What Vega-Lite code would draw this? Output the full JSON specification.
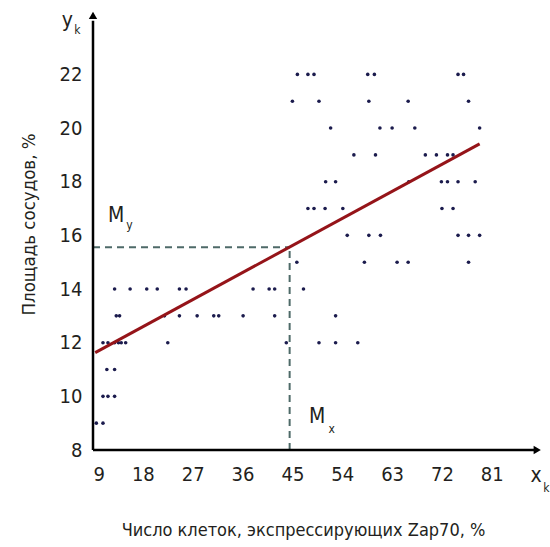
{
  "$schema": "https://vega.github.io/schema/vega-lite/v6.json",
  "width": 447,
  "height": 440,
  "autosize": {"type": "none"},
  "padding": {"left": 93, "top": 10, "right": 10, "bottom": 97},
  "background": "white",
  "config": {"view": {"stroke": null}, "font": "Liberation Sans Narrow, DejaVu Sans Condensed, Liberation Sans, sans-serif"},
  "datasets": {
    "pts": [
      {"x": 9.6, "y": 9}, {"x": 10.8, "y": 9},
      {"x": 10.8, "y": 10}, {"x": 11.7, "y": 10}, {"x": 12.9, "y": 10},
      {"x": 11.5, "y": 11}, {"x": 12.9, "y": 11},
      {"x": 10.8, "y": 12}, {"x": 11.7, "y": 12}, {"x": 12.9, "y": 12}, {"x": 13.6, "y": 12}, {"x": 14.1, "y": 12}, {"x": 14.9, "y": 12}, {"x": 22.5, "y": 12}, {"x": 43.9, "y": 12}, {"x": 49.8, "y": 12}, {"x": 52.8, "y": 12}, {"x": 56.8, "y": 12},
      {"x": 13.2, "y": 13}, {"x": 13.8, "y": 13}, {"x": 21.9, "y": 13}, {"x": 24.6, "y": 13}, {"x": 27.8, "y": 13}, {"x": 30.8, "y": 13}, {"x": 31.7, "y": 13}, {"x": 36.1, "y": 13}, {"x": 41.8, "y": 13}, {"x": 52.8, "y": 13},
      {"x": 12.9, "y": 14}, {"x": 15.7, "y": 14}, {"x": 18.7, "y": 14}, {"x": 20.6, "y": 14}, {"x": 24.6, "y": 14}, {"x": 25.8, "y": 14}, {"x": 37.9, "y": 14}, {"x": 40.8, "y": 14}, {"x": 41.8, "y": 14}, {"x": 47.0, "y": 14},
      {"x": 45.8, "y": 15}, {"x": 58.0, "y": 15}, {"x": 63.9, "y": 15}, {"x": 65.9, "y": 15}, {"x": 76.8, "y": 15},
      {"x": 54.9, "y": 16}, {"x": 58.8, "y": 16}, {"x": 60.9, "y": 16}, {"x": 74.9, "y": 16}, {"x": 76.8, "y": 16}, {"x": 78.8, "y": 16},
      {"x": 47.8, "y": 17}, {"x": 48.9, "y": 17}, {"x": 50.9, "y": 17}, {"x": 54.1, "y": 17}, {"x": 72.0, "y": 17}, {"x": 74.0, "y": 17},
      {"x": 51.0, "y": 18}, {"x": 52.8, "y": 18}, {"x": 66.0, "y": 18}, {"x": 71.9, "y": 18}, {"x": 73.0, "y": 18}, {"x": 74.9, "y": 18}, {"x": 78.0, "y": 18},
      {"x": 56.1, "y": 19}, {"x": 60.0, "y": 19}, {"x": 69.0, "y": 19}, {"x": 71.0, "y": 19}, {"x": 73.0, "y": 19}, {"x": 74.0, "y": 19},
      {"x": 51.9, "y": 20}, {"x": 60.8, "y": 20}, {"x": 63.0, "y": 20}, {"x": 67.1, "y": 20}, {"x": 78.8, "y": 20},
      {"x": 45.0, "y": 21}, {"x": 49.8, "y": 21}, {"x": 58.8, "y": 21}, {"x": 65.9, "y": 21}, {"x": 76.8, "y": 21},
      {"x": 45.9, "y": 22}, {"x": 47.8, "y": 22}, {"x": 48.9, "y": 22}, {"x": 58.6, "y": 22}, {"x": 59.8, "y": 22}, {"x": 74.9, "y": 22}, {"x": 75.9, "y": 22}
    ],
    "fit": [{"x": 9.4, "y": 11.63}, {"x": 78.8, "y": 19.41}],
    "guides": [{"x": 9, "y": 15.56, "x2": 44.5, "y2": 15.56}, {"x": 44.5, "y": 8, "x2": 44.5, "y2": 15.56}],
    "axes": [{"x": 9, "y": 8, "x2": 88.8, "y2": 8}, {"x": 9, "y": 8, "x2": 9, "y2": 24.0}],
    "arrows": [{"x": 89.2, "y": 8, "d": "r"}, {"x": 9, "y": 24.2, "d": "u"}],
    "xt": [{"x": 9}, {"x": 18}, {"x": 27}, {"x": 36}, {"x": 45}, {"x": 54}, {"x": 63}, {"x": 72}, {"x": 81}],
    "yt": [{"y": 8}, {"y": 10}, {"y": 12}, {"y": 14}, {"y": 16}, {"y": 18}, {"y": 20}, {"y": 22}],
    "big": [{"t": "y", "x": 3.35, "y": 23.78}, {"t": "M", "x": 11.7, "y": 16.51}, {"t": "M", "x": 48.0, "y": 9.01}, {"t": "x", "x": 88.0, "y": 6.81}],
    "small": [{"t": "k", "x": 5.6, "y": 23.5}, {"t": "y", "x": 15.0, "y": 16.22}, {"t": "x", "x": 51.5, "y": 8.65}, {"t": "k", "x": 90.3, "y": 6.45}]
  },
  "encoding": {
    "x": {"field": "x", "type": "quantitative",
      "scale": {"domain": [9, 89.7], "nice": false, "zero": false},
      "axis": {"values": [9, 18, 27, 36, 45, 54, 63, 72, 81], "domain": false, "ticks": false, "grid": false,
        "labelFontSize": 20, "labelColor": "#231f20", "labelPadding": 14,
        "title": "Число клеток, экспрессирующих Zap70, %", "titleFontSize": 18,
        "titleFontWeight": "normal", "titleColor": "#231f20", "titleX": 210, "titleY": 80, "titleAlign": "center", "titleBaseline": "middle"}},
    "y": {"field": "y", "type": "quantitative",
      "scale": {"domain": [8, 24.4], "nice": false, "zero": false},
      "axis": {"values": [8, 10, 12, 14, 16, 18, 20, 22], "domain": false, "ticks": false, "grid": false,
        "labelFontSize": 20, "labelColor": "#231f20", "labelPadding": 11,
        "title": "Площадь сосудов, %", "titleFontSize": 18.5,
        "titleFontWeight": "normal", "titleColor": "#231f20", "titleX": -65, "titleY": 214, "titleAngle": -90, "titleAlign": "center", "titleBaseline": "middle"}}
  },
  "layer": [
    {
      "data": {"name": "guides"},
      "mark": {"type": "rule", "color": "#4e6a68", "strokeWidth": 2, "strokeDash": [7, 5]},
      "encoding": {"x2": {"field": "x2"}, "y2": {"field": "y2"}}
    },
    {
      "data": {"name": "pts"},
      "mark": {"type": "circle", "size": 13, "color": "#1b1b4d", "opacity": 1}
    },
    {
      "data": {"name": "fit"},
      "mark": {"type": "line", "color": "#951419", "strokeWidth": 3},
      "encoding": {}
    },
    {
      "data": {"name": "axes"},
      "mark": {"type": "rule", "color": "#000000", "strokeWidth": 2.5},
      "encoding": {"x2": {"field": "x2"}, "y2": {"field": "y2"}}
    },
    {
      "data": {"name": "xt"},
      "mark": {"type": "tick", "orient": "vertical", "color": "#000000", "size": 14, "thickness": 2.5},
      "encoding": {"y": {"datum": 8, "type": "quantitative"}}
    },
    {
      "data": {"name": "yt"},
      "mark": {"type": "tick", "orient": "horizontal", "color": "#000000", "size": 12, "thickness": 2.5},
      "encoding": {"x": {"datum": 9, "type": "quantitative"}}
    },
    {
      "data": {"name": "arrows"},
      "transform": [{"filter": "datum.d === 'r'"}],
      "mark": {"type": "point", "shape": "triangle-right", "filled": true, "color": "#000000", "size": 70, "opacity": 1}
    },
    {
      "data": {"name": "arrows"},
      "transform": [{"filter": "datum.d === 'u'"}],
      "mark": {"type": "point", "shape": "triangle-up", "filled": true, "color": "#000000", "size": 70, "opacity": 1}
    },
    {
      "data": {"name": "big"},
      "mark": {"type": "text", "fontSize": 21, "color": "#231f20", "align": "left", "baseline": "alphabetic"},
      "encoding": {"text": {"field": "t"}}
    },
    {
      "data": {"name": "small"},
      "mark": {"type": "text", "fontSize": 12, "color": "#231f20", "align": "left", "baseline": "alphabetic"},
      "encoding": {"text": {"field": "t"}}
    }
  ]
}
